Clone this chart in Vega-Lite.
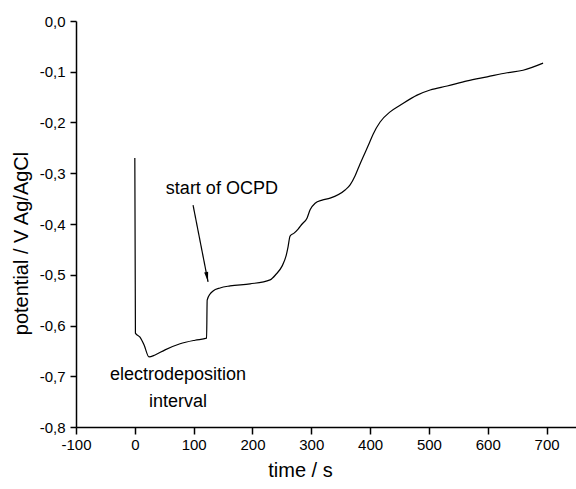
{
  "$schema": "https://vega.github.io/schema/vega-lite/v6.json",
  "width": 500,
  "height": 406,
  "autosize": {"type": "none"},
  "padding": {"left": 76, "top": 21, "right": 0, "bottom": 62},
  "background": "white",
  "config": {
    "view": {"stroke": null},
    "font": "Liberation Sans",
    "axis": {
      "grid": false,
      "domainColor": "black",
      "domainWidth": 1.5,
      "tickColor": "black",
      "tickWidth": 1.5,
      "labelColor": "black",
      "labelFont": "Liberation Sans",
      "labelFontSize": 15,
      "labelOverlap": false,
      "labelFlush": false,
      "labelBound": false,
      "titleColor": "black",
      "titleFont": "Liberation Sans",
      "titleFontSize": 20,
      "titleFontWeight": "normal"
    }
  },
  "datasets": {
    "curve": [
      {"t": 0, "v": -0.27},
      {"t": 1, "v": -0.615},
      {"t": 8.8, "v": -0.623},
      {"t": 15.6, "v": -0.638},
      {"t": 24.1, "v": -0.662},
      {"t": 34.4, "v": -0.658},
      {"t": 51.4, "v": -0.648},
      {"t": 76.9, "v": -0.636},
      {"t": 102.4, "v": -0.629},
      {"t": 122, "v": -0.625},
      {"t": 123, "v": -0.55},
      {"t": 127.9, "v": -0.538},
      {"t": 133, "v": -0.532},
      {"t": 144.9, "v": -0.526},
      {"t": 161.9, "v": -0.522},
      {"t": 195.9, "v": -0.518},
      {"t": 229.9, "v": -0.51},
      {"t": 240.1, "v": -0.499},
      {"t": 250.3, "v": -0.483},
      {"t": 257.1, "v": -0.463},
      {"t": 260.5, "v": -0.445},
      {"t": 263.9, "v": -0.424},
      {"t": 270.7, "v": -0.418},
      {"t": 277.6, "v": -0.41},
      {"t": 284.4, "v": -0.4},
      {"t": 292.9, "v": -0.388},
      {"t": 298, "v": -0.372},
      {"t": 306.5, "v": -0.359},
      {"t": 318.4, "v": -0.353},
      {"t": 332, "v": -0.349},
      {"t": 357.5, "v": -0.333},
      {"t": 366, "v": -0.323},
      {"t": 374.5, "v": -0.305},
      {"t": 381.3, "v": -0.286},
      {"t": 388.1, "v": -0.268},
      {"t": 396.6, "v": -0.246},
      {"t": 405.1, "v": -0.223},
      {"t": 417, "v": -0.199},
      {"t": 434, "v": -0.179},
      {"t": 451, "v": -0.166},
      {"t": 479.9, "v": -0.146},
      {"t": 502, "v": -0.136},
      {"t": 531, "v": -0.128},
      {"t": 565, "v": -0.118},
      {"t": 599, "v": -0.11},
      {"t": 633, "v": -0.102},
      {"t": 660, "v": -0.097},
      {"t": 694, "v": -0.083}
    ],
    "labels": [
      {"t": 73.5, "v": -0.698, "label": "electrodeposition"},
      {"t": 73.5, "v": -0.751, "label": "interval"},
      {"t": 148, "v": -0.331, "label": "start of OCPD"}
    ],
    "arrow": [
      {"t": 99, "v": -0.3626, "t2": 124.5, "v2": -0.514}
    ]
  },
  "layer": [
    {
      "data": {"name": "curve"},
      "mark": {"type": "line", "color": "black", "strokeWidth": 1.2, "interpolate": "monotone"},
      "encoding": {
        "x": {
          "field": "t",
          "type": "quantitative",
          "scale": {"domain": [-100, 750], "nice": false, "zero": false},
          "axis": {
            "title": "time / s",
            "values": [-100, -50, 0, 50, 100, 150, 200, 250, 300, 350, 400, 450, 500, 550, 600, 650, 700],
            "labelExpr": "datum.value % 100 === 0 ? ((datum.value < 0 ? '-' : '') + abs(datum.value)) : ''",
            "tickSize": {"condition": {"test": "datum.value % 100 === 0", "value": 7}, "value": 4},
            "labelPadding": 3,
            "titlePadding": 8,
            "titleX": 224,
            "titleAlign": "center"
          }
        },
        "y": {
          "field": "v",
          "type": "quantitative",
          "scale": {"domain": [-0.8, 0], "nice": false, "zero": false},
          "axis": {
            "title": "potential / V Ag/AgCl",
            "values": [-0.8, -0.75, -0.7, -0.65, -0.6, -0.55, -0.5, -0.45, -0.4, -0.35, -0.3, -0.25, -0.2, -0.15, -0.1, -0.05, 0],
            "labelExpr": "abs(round(datum.value * 100)) % 10 === 0 ? ((datum.value < -0.001 ? '-' : '') + replace(format(abs(datum.value), '.1f'), '.', ',')) : ''",
            "tickSize": {"condition": {"test": "abs(round(datum.value * 100)) % 10 === 0", "value": 6}, "value": 4},
            "labelPadding": 5,
            "titlePadding": 8,
            "titleY": 222
          }
        }
      }
    },
    {
      "data": {"name": "labels"},
      "mark": {"type": "text", "font": "Liberation Sans", "fontSize": 18, "color": "black", "align": "center", "baseline": "middle"},
      "encoding": {
        "x": {"field": "t", "type": "quantitative"},
        "y": {"field": "v", "type": "quantitative"},
        "text": {"field": "label"}
      }
    },
    {
      "data": {"name": "arrow"},
      "mark": {"type": "rule", "color": "black", "strokeWidth": 1.2},
      "encoding": {
        "x": {"field": "t", "type": "quantitative"},
        "y": {"field": "v", "type": "quantitative"},
        "x2": {"field": "t2"},
        "y2": {"field": "v2"}
      }
    },
    {
      "data": {"name": "arrow"},
      "mark": {"type": "point", "shape": "M0,0 L-0.2,-1 L0.2,-1 Z", "filled": true, "color": "black", "size": 400, "angle": 349, "opacity": 1},
      "encoding": {
        "x": {"field": "t2", "type": "quantitative"},
        "y": {"field": "v2", "type": "quantitative"}
      }
    }
  ]
}
